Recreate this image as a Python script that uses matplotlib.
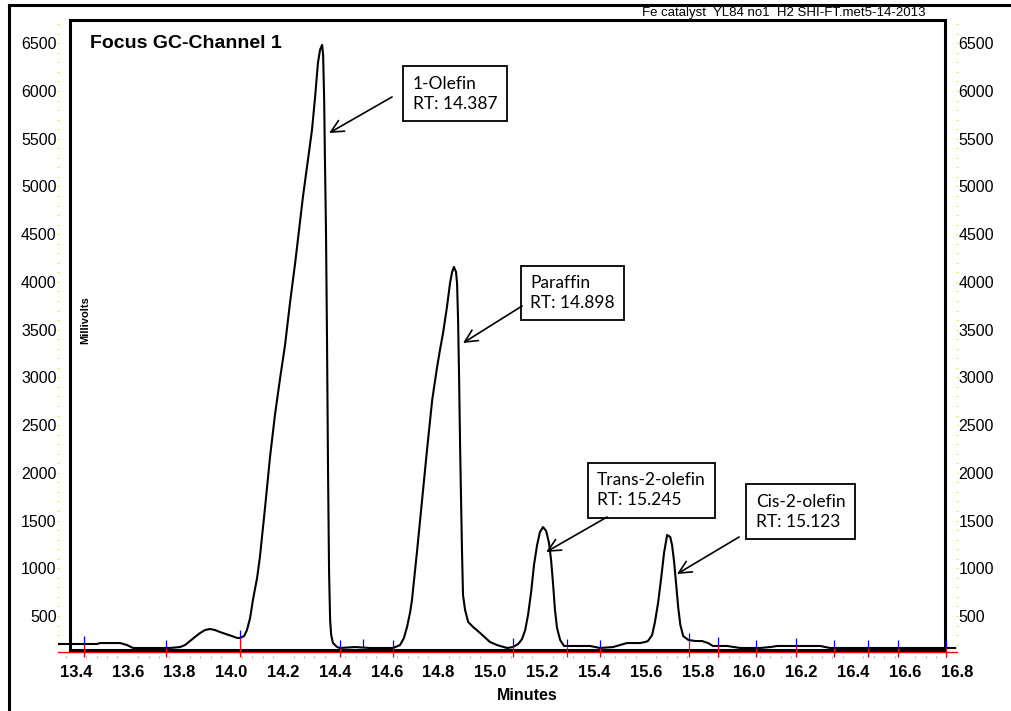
import matplotlib.pyplot as plt
import numpy as np
from matplotlib.ticker import MultipleLocator
from matplotlib.patches import Rectangle
from matplotlib.lines import Line2D

plt.rcParams['font.family'] = ['Liberation Sans', 'DejaVu Sans']

# trace (minutes, millivolts)
minutes = [13.330, 13.396, 13.481, 13.493, 13.531, 13.570, 13.597, 13.620, 13.763, 13.802,
           13.821, 13.840, 13.859, 13.879, 13.898, 13.917, 13.937, 13.956, 13.979, 14.002,
           14.022, 14.033, 14.049, 14.060, 14.072, 14.083, 14.099, 14.110, 14.130, 14.149,
           14.168, 14.188, 14.207, 14.226, 14.246, 14.276, 14.311, 14.323, 14.334, 14.342,
           14.350, 14.354, 14.358, 14.361, 14.365, 14.369, 14.373, 14.377, 14.381, 14.385,
           14.392, 14.408, 14.419, 14.477, 14.535, 14.624, 14.651, 14.666, 14.678, 14.690,
           14.697, 14.717, 14.736, 14.755, 14.775, 14.794, 14.805, 14.817, 14.832, 14.844,
           14.852, 14.859, 14.867, 14.871, 14.875, 14.879, 14.883, 14.890, 14.894, 14.902,
           14.914, 14.933, 14.960, 14.998, 15.025, 15.064, 15.087, 15.107, 15.122, 15.134,
           15.145, 15.157, 15.168, 15.180, 15.191, 15.203, 15.215, 15.226, 15.234, 15.242,
           15.249, 15.257, 15.269, 15.284, 15.327, 15.385, 15.423, 15.473, 15.500, 15.527,
           15.578, 15.597, 15.608, 15.624, 15.635, 15.647, 15.659, 15.670, 15.682, 15.694,
           15.701, 15.709, 15.717, 15.725, 15.733, 15.744, 15.764, 15.791, 15.817, 15.840,
           15.859, 15.914, 15.964, 16.041, 16.080, 16.107, 16.195, 16.273, 16.311, 16.794]
millivolts = [207, 207, 207, 217, 217, 217, 196, 165, 165, 175,
              196, 238, 280, 322, 353, 364, 353, 332, 311, 290,
              270, 270, 290, 353, 479, 668, 898, 1118, 1642, 2166,
              2606, 2994, 3339, 3779, 4198, 4890, 5592, 5937, 6294, 6430,
              6483, 6378, 5906, 5277, 4544, 3392, 1998, 950, 458, 301,
              217, 175, 165, 175, 165, 165, 196, 270, 385, 542,
              668, 1191, 1715, 2239, 2763, 3109, 3287, 3465, 3737, 3989,
              4104, 4157, 4104, 3989, 3601, 2973, 2239, 1191, 720, 563,
              437, 385, 322, 228, 196, 165, 175, 207, 259, 353,
              510, 751, 1034, 1244, 1380, 1432, 1391, 1265, 1087, 825,
              563, 374, 249, 186, 186, 186, 165, 175, 196, 217,
              217, 228, 238, 301, 437, 636, 898, 1160, 1349, 1328,
              1244, 1066, 825, 584, 406, 290, 249, 238, 238, 217,
              186, 186, 165, 165, 175, 186, 186, 186, 165, 165]

# integration event marks
event_min = [13.431, 13.747, 14.033, 14.419, 14.508, 14.624, 15.087, 15.296, 15.423,
             15.767, 15.879, 16.025, 16.180, 16.327, 16.458, 16.574, 16.759]
event_mv = [207, 165, 270, 165, 175, 165, 186, 175, 165,
            238, 196, 165, 186, 165, 165, 165, 165]
event_red = [1, 1, 1, 1, 0, 1, 1, 1, 1, 1, 1, 1, 1, 1, 1, 1, 1]

peak_labels = ['1-Olefin\nRT: 14.387', 'Paraffin\nRT: 14.898',
               'Trans-2-olefin\nRT: 15.245', 'Cis-2-olefin\nRT: 15.123']
label_xy = [(14.701, 5969), (15.153, 3884), (15.412, 1820), (16.025, 1590)]
arrow_tail = [(14.620, 5938), (15.122, 3748), (15.450, 1537), (15.960, 1328)]
arrow_tip = [(14.377, 5560), (14.894, 3360), (15.215, 1171), (15.720, 940)]

fig = plt.figure(figsize=(10.11, 7.11), dpi=100)
ax = fig.add_axes([58 / 1011, 61 / 711, 899 / 1011, 630 / 711])
ax.set_xlim(13.3305, 16.801)
ax.set_ylim(144, 6744)

ax.plot(minutes, millivolts, color='black', lw=1.5, solid_joinstyle='round', zorder=4)

ev_min = np.array(event_min)
ev_mv = np.array(event_mv)
red_mask = np.array(event_red) == 1
ax.vlines(ev_min, ev_mv, ev_mv + 80, colors='blue', lw=0.9, clip_on=False, zorder=5)
ax.vlines(ev_min[red_mask], 75, ev_mv[red_mask], colors='red', lw=0.9, clip_on=False, zorder=5)

ax.axhline(128, color='red', lw=1, clip_on=False, zorder=2)
ax.add_patch(Rectangle((12 / 899, 0), 875 / 899, 1, transform=ax.transAxes, fill=False,
                       lw=2.2, ec='black', clip_on=False, zorder=3))

for s in ax.spines.values():
    s.set_visible(False)
ax.spines['bottom'].set_position(('outward', 4.3))

ax.xaxis.set_major_locator(MultipleLocator(0.2))
ax.xaxis.set_minor_locator(MultipleLocator(0.04))
ax.xaxis.set_major_formatter(plt.FuncFormatter(lambda v, p: f'{v:.1f}'))
ax.tick_params(axis='x', which='major', length=0, pad=6.5, labelsize=12)
ax.tick_params(axis='x', which='minor', length=1.5, width=0.8, color='#b8b8b8', direction='out')
for lab in ax.get_xticklabels():
    lab.set_fontweight('bold')

ax.yaxis.set_major_locator(MultipleLocator(500))
ax.yaxis.set_minor_locator(MultipleLocator(100))
ax.set_yticks(np.arange(500, 6501, 500))
ax.tick_params(axis='y', which='both', left=True, right=True, labelleft=True, labelright=True,
               direction='inout', length=2, width=0.8, color='#ece64a', pad=0, labelsize=11.5)

for text, xy, tail, tip in zip(peak_labels, label_xy, arrow_tail, arrow_tip):
    ax.text(xy[0], xy[1], text, ha='left', va='center', fontsize=12.5, family='Lato',
            linespacing=1.3, zorder=6,
            bbox=dict(boxstyle='square,pad=0.55', fc='white', ec='black', lw=1.3))
    ax.annotate('', xy=tip, xytext=tail,
                arrowprops=dict(arrowstyle='->,head_length=0.45,head_width=0.22',
                                color='black', lw=1.2, mutation_scale=20,
                                shrinkA=0, shrinkB=0), zorder=6)

fig.text(90 / 1011, 1 - 43 / 711, 'Focus GC-Channel 1', fontsize=14, fontweight='bold',
         ha='left', va='center')
fig.text(925 / 1011, 1 - 13 / 711, 'Fe catalyst  YL84 no1  H2 SHI-FT.met5-14-2013',
         fontsize=9.5, ha='right', va='center')
fig.text(85 / 1011, 1 - 320 / 711, 'Millivolts', fontsize=8, fontweight='bold',
         rotation=90, ha='center', va='center')
fig.text(527 / 1011, 1 - 695 / 711, 'Minutes', fontsize=11.5, fontweight='bold',
         ha='center', va='center')

# outer frame edges (left and top)
fig.add_artist(Line2D([8.5 / 1011, 8.5 / 1011], [0, 1 - 4.5 / 711], color='black', lw=2.2))
fig.add_artist(Line2D([8.5 / 1011, 1], [1 - 4.5 / 711, 1 - 4.5 / 711], color='black', lw=2.2))

fig.savefig('out.png', dpi=100)
